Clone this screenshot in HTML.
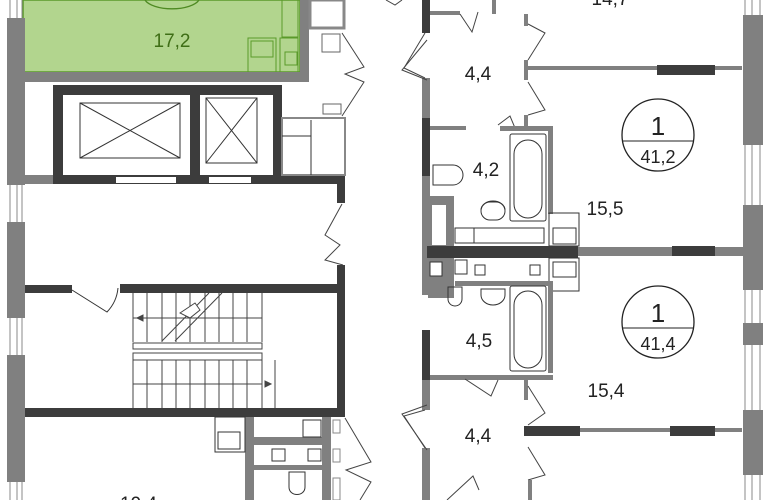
<!DOCTYPE html>
<html><head><meta charset="utf-8"><style>
html,body{margin:0;padding:0;background:#fff;width:770px;height:500px;overflow:hidden}
svg{display:block}
text{font-family:"Liberation Sans",sans-serif;fill:#222}
</style></head><body>
<svg width="770" height="500" viewBox="0 0 770 500" xmlns="http://www.w3.org/2000/svg">
<g fill="none" stroke="#333" stroke-width="1">
<rect x="23" y="0" width="277" height="72" fill="#b2d58e" stroke="none"/>
<rect x="23" y="0" width="277" height="72" stroke="#5a9a2a" stroke-width="1.5"/>
<path d="M145 0 A28 12 0 0 0 199 0" stroke="#4e8a22" stroke-width="1.3"/>
<rect x="282" y="0" width="16" height="37" stroke="#5a9a2a"/>
<rect x="248" y="38" width="28" height="34" stroke="#5a9a2a"/>
<rect x="251" y="41" width="22" height="16" stroke="#5a9a2a"/>
<rect x="280" y="38" width="18" height="34" stroke="#5a9a2a"/>
<rect x="285" y="52" width="12" height="13" stroke="#5a9a2a"/>
<rect x="23" y="72" width="286" height="10" fill="#808080" stroke="none"/>
<rect x="300" y="0" width="9" height="82" fill="#808080" stroke="none"/>
<rect x="310" y="0" width="34" height="28" stroke="#888" stroke-width="3"/>
<rect x="7" y="18" width="18" height="167" fill="#808080" stroke="none"/>
<rect x="7" y="222" width="18" height="96" fill="#808080" stroke="none"/>
<rect x="7" y="355" width="18" height="127" fill="#808080" stroke="none"/>
<path d="M10 0V18M17 0V18M22 0V18M10 185V222M17 185V222M22 185V222M10 318V355M17 318V355M22 318V355M10 482V500M17 482V500M22 482V500" stroke="#888"/>
<rect x="743" y="15" width="20" height="130" fill="#808080" stroke="none"/>
<rect x="743" y="205" width="20" height="85" fill="#808080" stroke="none"/>
<rect x="743" y="323" width="20" height="22" fill="#808080" stroke="none"/>
<rect x="743" y="410" width="20" height="65" fill="#808080" stroke="none"/>
<path d="M745 0V15M752 0V15M760 0V15M745 145V205M752 145V205M760 145V205M745 290V323M752 290V323M760 290V323M745 345V410M752 345V410M760 345V410M745 475V500M752 475V500M760 475V500" stroke="#888"/>
<rect x="25" y="175" width="35" height="9" fill="#808080" stroke="none"/>
<path d="M53 85H282V184H53Z" fill="#3c3c3c" stroke="none"/>
<rect x="63" y="95" width="127" height="80" fill="#fff" stroke="none"/>
<rect x="200" y="95" width="73" height="80" fill="#fff" stroke="none"/>
<rect x="60" y="175" width="285" height="9" fill="#3c3c3c" stroke="none"/>
<rect x="116" y="177" width="60" height="6" fill="#fff" stroke="none"/>
<rect x="209" y="177" width="42" height="6" fill="#fff" stroke="none"/>
<rect x="337" y="175" width="8" height="28" fill="#3c3c3c" stroke="none"/>
<rect x="80" y="103" width="100" height="55"/><path d="M80 103L180 158M180 103L80 158"/>
<rect x="206" y="98" width="51" height="65"/><path d="M206 98L257 163M257 98L206 163"/>
<rect x="282" y="118" width="63" height="57" stroke="#888" stroke-width="2"/>
<path d="M311 120V175M282 136H311"/>
<rect x="322" y="34" width="18" height="18" stroke="#666"/>
<rect x="323" y="104" width="18" height="10" stroke="#666"/>
<path d="M342 33L364 67L345 74L364 82L342 116" stroke="#444"/>
<path d="M342 204L325 235L340 245L325 260L343 265" stroke="#444"/>
<rect x="25" y="285" width="47" height="8" fill="#3c3c3c" stroke="none"/>
<rect x="120" y="284" width="225" height="9" fill="#3c3c3c" stroke="none"/>
<rect x="337" y="265" width="8" height="152" fill="#3c3c3c" stroke="none"/>
<rect x="25" y="408" width="320" height="9" fill="#3c3c3c" stroke="none"/>
<path d="M72 290L107 312A40 40 0 0 0 118 288"/>
<g stroke="#444">
<path d="M133 293V342M147 293V342M162 293V342M176 293V342M190 293V342M205 293V342M219 293V342M233 293V342M247 293V342M262 293V342M133 318H262"/>
<path d="M133 360V408M147 360V408M162 360V408M176 360V408M190 360V408M205 360V408M219 360V408M233 360V408M247 360V408M262 360V408M133 384H262M275 360V408"/>
<rect x="133" y="343" width="129" height="6"/><rect x="133" y="353" width="129" height="7"/>
<path d="M162 341L209 293M175 341L222 293"/>
<path d="M180 313L195 303L200 310L190 318Z" fill="#fff"/>
<path d="M137 318l6-3v6z M271 384l-6-3v6z" fill="#444"/>
</g>
<rect x="245" y="417" width="9" height="83" fill="#808080" stroke="none"/>
<rect x="322" y="417" width="9" height="83" fill="#808080" stroke="none"/>
<rect x="245" y="437" width="86" height="8" fill="#808080" stroke="none"/>
<rect x="245" y="465" width="86" height="5" fill="#808080" stroke="none"/>
<rect x="215" y="417" width="30" height="35"/><rect x="218" y="432" width="22" height="17"/>
<rect x="303" y="420" width="18" height="17"/><rect x="272" y="449" width="13" height="12"/><rect x="308" y="449" width="13" height="12"/>
<rect x="333" y="420" width="7" height="13" stroke="#888"/><rect x="333" y="449" width="7" height="13" stroke="#888"/><rect x="333" y="478" width="7" height="22" stroke="#888"/>
<path d="M289 472h16v15c0 10-16 10-16 0z"/>
<path d="M345 418L371 462L346 470L371 482L360 500" stroke="#444"/>
<rect x="422" y="0" width="8" height="33" fill="#3c3c3c" stroke="none"/>
<rect x="422" y="78" width="8" height="40" fill="#808080" stroke="none"/>
<rect x="422" y="118" width="8" height="58" fill="#3c3c3c" stroke="none"/>
<rect x="422" y="176" width="8" height="85" fill="#808080" stroke="none"/>
<rect x="422" y="261" width="8" height="34" fill="#808080" stroke="none"/>
<rect x="422" y="330" width="8" height="50" fill="#3c3c3c" stroke="none"/>
<rect x="422" y="380" width="8" height="30" fill="#808080" stroke="none"/>
<rect x="422" y="448" width="8" height="52" fill="#808080" stroke="none"/>
<path d="M425 33L404 68L425 78M425 410L404 416L425 448" stroke="#444"/>
<path d="M386 0L395 5L402 0" stroke="#444"/>
<rect x="430" y="11" width="30" height="4" fill="#808080" stroke="none"/>
<rect x="492" y="0" width="4" height="14" fill="#808080" stroke="none"/>
<rect x="524" y="66" width="218" height="4" fill="#808080" stroke="none"/>
<rect x="657" y="65" width="58" height="10" fill="#3c3c3c" stroke="none"/>
<rect x="524" y="14" width="4" height="12" fill="#808080" stroke="none"/>
<rect x="524" y="60" width="4" height="20" fill="#808080" stroke="none"/>
<rect x="524" y="115" width="4" height="15" fill="#808080" stroke="none"/>
<path d="M460 14L472 32L478 12M528 24L545 33L528 60M528 82L545 110L528 115M427 40L402 70L427 80" stroke="#444"/>
<path d="M498 125L510 116L515 128" stroke="#444"/>
<rect x="430" y="126" width="36" height="4" fill="#808080" stroke="none"/>
<rect x="500" y="126" width="52" height="5" fill="#808080" stroke="none"/>
<rect x="548" y="126" width="5" height="88" fill="#808080" stroke="none"/>
<rect x="510" y="134" width="36" height="87" rx="2"/><rect x="514" y="140" width="28" height="78" rx="14"/>
<path d="M433 165h20a10 10 0 0 1 0 20h-20z"/>
<rect x="481" y="202" width="24" height="18" rx="9"/>
<rect x="428" y="196" width="26" height="50" fill="#808080" stroke="none"/>
<rect x="432" y="205" width="14" height="40" fill="#fff" stroke="none"/>
<rect x="455" y="228" width="19" height="15"/><rect x="474" y="228" width="70" height="15"/>
<rect x="549" y="213" width="30" height="33"/><rect x="553" y="228" width="23" height="16"/>
<rect x="427" y="246" width="151" height="12" fill="#3c3c3c" stroke="none"/>
<rect x="578" y="247" width="165" height="9" fill="#808080" stroke="none"/>
<rect x="672" y="246" width="43" height="10" fill="#3c3c3c" stroke="none"/>
<rect x="428" y="258" width="26" height="40" fill="#808080" stroke="none"/>
<rect x="430" y="262" width="12" height="14" fill="#fff"/>
<rect x="455" y="260" width="12" height="14"/><rect x="475" y="265" width="10" height="10"/><rect x="530" y="265" width="10" height="10"/>
<rect x="549" y="258" width="30" height="33"/><rect x="553" y="262" width="23" height="15"/>
<rect x="455" y="281" width="95" height="5" fill="#808080" stroke="none"/>
<rect x="548" y="281" width="5" height="92" fill="#808080" stroke="none"/>
<rect x="430" y="375" width="123" height="5" fill="#808080" stroke="none"/>
<rect x="510" y="286" width="36" height="85" rx="2"/><rect x="514" y="291" width="28" height="77" rx="14"/>
<path d="M448 287h14v12a7 7 0 0 1 -14 0z"/>
<path d="M481 289h24v6a12 10 0 0 1 -24 0z"/>
<path d="M481 210a12 9 0 0 1 24 0"/>
<rect x="524" y="380" width="4" height="20" fill="#808080" stroke="none"/>
<rect x="524" y="428" width="218" height="4" fill="#808080" stroke="none"/>
<rect x="524" y="426" width="56" height="10" fill="#3c3c3c" stroke="none"/>
<rect x="670" y="426" width="45" height="10" fill="#3c3c3c" stroke="none"/>
<path d="M465 379L491 396L498 380M528 386L545 413L528 425M528 447L545 475L528 480M427 405L402 414L427 450M447 500L473 476L479 490" stroke="#444"/>
<rect x="528" y="480" width="4" height="20" fill="#808080" stroke="none"/>
<circle cx="658" cy="135" r="36" stroke="#222" stroke-width="1.3"/><path d="M622 141H694" stroke="#222"/>
<circle cx="658" cy="322" r="36" stroke="#222" stroke-width="1.3"/><path d="M622 328H694" stroke="#222"/>
</g>
<text x="172" y="47" font-size="19" text-anchor="middle" style="fill:#3f6e16">17,2</text>
<text x="610" y="5" font-size="19" text-anchor="middle">14,7</text>
<text x="478" y="80" font-size="19" text-anchor="middle">4,4</text>
<text x="658" y="135" font-size="26" text-anchor="middle">1</text>
<text x="658" y="163" font-size="18" text-anchor="middle">41,2</text>
<text x="486" y="176" font-size="19" text-anchor="middle">4,2</text>
<text x="605" y="215" font-size="19" text-anchor="middle">15,5</text>
<text x="658" y="322" font-size="26" text-anchor="middle">1</text>
<text x="658" y="350" font-size="18" text-anchor="middle">41,4</text>
<text x="479" y="347" font-size="19" text-anchor="middle">4,5</text>
<text x="606" y="397" font-size="19" text-anchor="middle">15,4</text>
<text x="478" y="442" font-size="19" text-anchor="middle">4,4</text>
<text x="120" y="510" font-size="19">19,4</text>
</svg>
</body></html>
